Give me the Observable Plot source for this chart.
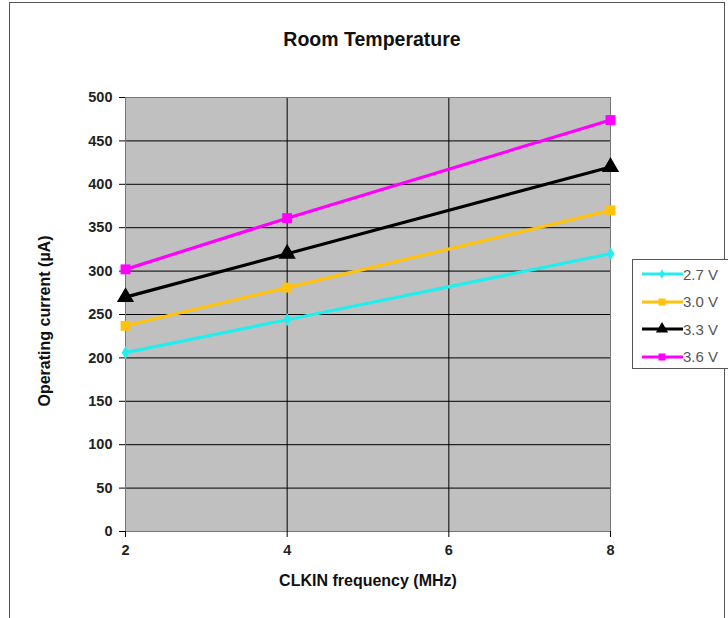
<!DOCTYPE html>
<html>
<head>
<meta charset="utf-8">
<script src="https://cdn.jsdelivr.net/npm/d3@7"></script>
<script src="https://cdn.jsdelivr.net/npm/@observablehq/plot@0.6"></script>
<style>
  html, body { margin: 0; padding: 0; background: #fff; }
  body { font-family: "Liberation Sans", Arial, sans-serif; }
  #wrap { position: relative; width: 728px; height: 618px; overflow: hidden; }
  #border { position: absolute; left: 9px; top: 2px; width: 716px; height: 640px; border: 1px solid #555; box-sizing: border-box; }
  #chart { position: absolute; left: 0; top: 0; }
  #chart svg g[aria-label$="tick label"] { font-weight: bold; font-size: 14.5px; }
  .lbl { position: absolute; font-weight: bold; color: #111; white-space: nowrap; }
  #title { left: 0; width: 744px; top: 28px; text-align: center; font-size: 19.5px; }
  #xlabel { left: 0; width: 736px; top: 572px; text-align: center; font-size: 16px; }
  #ylabel { left: 45px; top: 321px; font-size: 16px; transform: translate(-50%, -50%) rotate(-90deg); }
  #legend { position: absolute; left: 632px; top: 259px; width: 100px; height: 110px; border: 1px solid #555; box-sizing: border-box; background: #fff; }
  .item { position: absolute; left: 9px; height: 16px; display: flex; align-items: center; font-size: 15px; color: #555; }
</style>
</head>
<body>
<div id="wrap">
  <div id="border"></div>
  <div id="chart"></div>
  <div class="lbl" id="title">Room Temperature</div>
  <div class="lbl" id="xlabel">CLKIN frequency (MHz)</div>
  <div class="lbl" id="ylabel">Operating current (µA)</div>
  <div id="legend"></div>
</div>
<script>
// Data
const frequencies = [2, 4, 8];
const seriesNames = ["2.7 V", "3.0 V", "3.3 V", "3.6 V"];
const current27 = [206, 244, 320];
const current30 = [237, 281, 370];
const current33 = [270, 320, 420];
const current36 = [302, 361, 474];
const xTicks = [2, 4, 6, 8];
const yTicks = [0, 50, 100, 150, 200, 250, 300, 350, 400, 450, 500];

const seriesValues = [current27, current30, current33, current36];
const colors = ["#22eeee", "#ffc20e", "#000000", "#ff00ff"];
const symbols = ["diamond", "square", "triangle", "square"];
const sizes = [4, 5.6, 6.4, 5.6];

const data = [];
seriesNames.forEach((s, i) => {
  frequencies.forEach((f, j) => data.push({series: s, freq: f, current: seriesValues[i][j]}));
});

const marks = [
  Plot.frame({fill: "#c0c0c0", stroke: "none"}),
  Plot.gridY(yTicks, {stroke: "#000", strokeOpacity: 1, strokeWidth: 1}),
  Plot.gridX(xTicks, {stroke: "#000", strokeOpacity: 1, strokeWidth: 1}),
  Plot.frame({stroke: "#777", strokeWidth: 1}),
  Plot.axisY(yTicks, {tickSize: 6, tickPadding: 7, fontSize: 14.5, label: null, stroke: "#000", fill: "#222"}),
  Plot.axisX(xTicks, {tickSize: 6, tickPadding: 7, fontSize: 14.5, label: null, stroke: "#000", fill: "#222"})
];
seriesNames.forEach((s, i) => {
  const d = data.filter(r => r.series === s);
  marks.push(Plot.line(d, {x: "freq", y: "current", stroke: colors[i], strokeWidth: 3.2}));
  marks.push(Plot.dot(d, {x: "freq", y: "current", fill: colors[i], symbol: symbols[i], r: sizes[i], stroke: "none"}));
});

const chart = Plot.plot({
  width: 728,
  height: 618,
  marginLeft: 125,
  marginRight: 118,
  marginTop: 97,
  marginBottom: 87,
  x: {domain: [2, 8]},
  y: {domain: [0, 500]},
  style: {fontFamily: "'Liberation Sans', Arial, sans-serif", color: "#000", background: "transparent"},
  marks
});
document.getElementById("chart").appendChild(chart);

// Legend
const legend = d3.select("#legend");
seriesNames.forEach((s, i) => {
  const item = legend.append("div").attr("class", "item").style("top", (6 + i * 27.5) + "px");
  const svg = item.append("svg").attr("width", 41).attr("height", 16);
  svg.append("line").attr("x1", 0).attr("x2", 41).attr("y1", 8).attr("y2", 8)
    .attr("stroke", colors[i]).attr("stroke-width", 3);
  const symMap = {diamond: d3.symbolDiamond, square: d3.symbolSquare, triangle: d3.symbolTriangle};
  svg.append("path").attr("transform", "translate(20,8)")
    .attr("d", d3.symbol(symMap[symbols[i]], Math.PI * sizes[i] * sizes[i] * 0.5)())
    .attr("fill", colors[i]);
  item.append("span").text(s);
});
</script>
</body>
</html>
